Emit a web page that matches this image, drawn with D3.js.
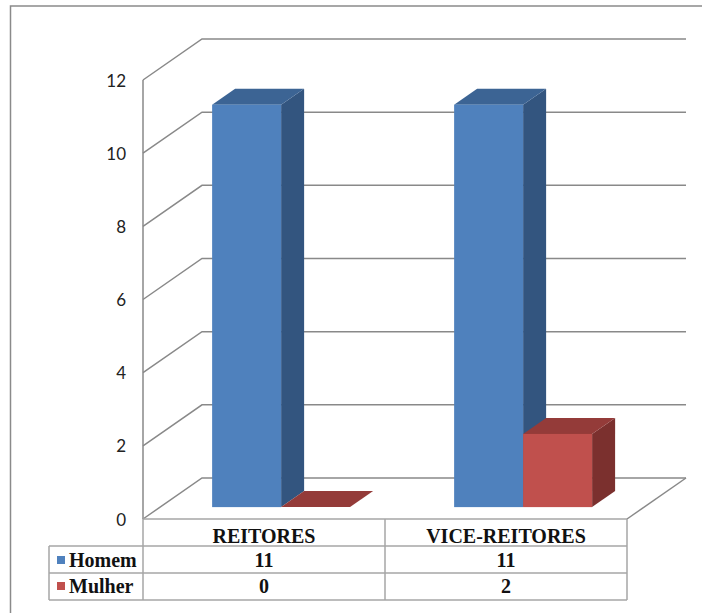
<!DOCTYPE html>
<html><head><meta charset="utf-8">
<script src="https://cdn.jsdelivr.net/npm/d3@7"></script>
<style>body{margin:0;background:#fff;overflow:hidden}</style>
</head><body>
<svg id="c" width="702" height="613"></svg>
<script>
const categories = ["REITORES", "VICE-REITORES"];
const seriesNames = ["Homem", "Mulher"];
const homem = [11, 11];
const mulher = [0, 2];
const yTicks = [0, 2, 4, 6, 8, 10, 12];

const seriesValues = [homem, mulher];
const colors = {
  Homem: {front: "#4F81BD", top: "#3C6494", side: "#33557F"},
  Mulher: {front: "#C0504D", top: "#943B39", side: "#7B302E"}
};

const svg = d3.select("#c");
const gridColor = "#898989";

// outer border
svg.append("rect").attr("x", 10.5).attr("y", 6).attr("width", 760).attr("height", 700)
  .attr("fill", "none").attr("stroke", "#8a8a8a").attr("stroke-width", 1.5);

const xLeft = 143, xRight = 627;
const D = {x: 59, y: -41};
const t0 = 0.29, t1 = 0.68;

const y = d3.scaleLinear().domain([0, 12]).range([519, 80]);
const x = d3.scaleBand().domain(categories).range([xLeft, xRight]).paddingInner(0).paddingOuter(0);
const xs = d3.scaleBand().domain(seriesNames).range([0, x.bandwidth()]).paddingInner(0).paddingOuter(0.754);

const walls = svg.append("g").attr("fill", "none").attr("stroke", gridColor).attr("stroke-width", 1.5);
yTicks.forEach(v => {
  const yy = y(v);
  walls.append("polyline").attr("points",
    [[xLeft, yy], [xLeft + D.x, yy + D.y], [xRight + D.x, yy + D.y]].map(p => p.join(",")).join(" "));
});
walls.append("line").attr("x1", xLeft).attr("x2", xLeft).attr("y1", y(12)).attr("y2", y(0));
walls.append("line").attr("x1", xRight).attr("x2", xRight + D.x).attr("y1", y(0)).attr("y2", y(0) + D.y);

// y axis labels
const axis = d3.axisLeft(y).tickValues(yTicks).tickSize(0).tickPadding(0).tickFormat(d3.format("d"));
const ag = svg.append("g").attr("transform", "translate(126,0)").call(axis);
ag.select(".domain").remove();
ag.selectAll("text").attr("font-family", "Lato, 'Open Sans', sans-serif").attr("font-size", 17)
  .attr("fill", "#222").attr("dy", "0.36em");

// bars
const dd = {x: D.x * (t1 - t0), y: D.y * (t1 - t0)};
const bars = svg.append("g");
categories.forEach((cat, j) => {
  seriesNames.forEach((s, i) => {
    const v = seriesValues[i][j];
    const xf = x(cat) + xs(s) + D.x * t0;
    const w = xs.bandwidth();
    const bot = y(0) + D.y * t0;
    const top = y(v) + D.y * t0;
    const c = colors[s];
    const pts = a => a.map(p => p.join(",")).join(" ");
    bars.append("polygon").attr("fill", c.side)
      .attr("points", pts([[xf + w, top], [xf + w + dd.x, top + dd.y], [xf + w + dd.x, bot + dd.y], [xf + w, bot]]));
    bars.append("polygon").attr("fill", c.top)
      .attr("points", pts([[xf, top], [xf + dd.x, top + dd.y], [xf + w + dd.x, top + dd.y], [xf + w, top]]));
    bars.append("rect").attr("fill", c.front).attr("x", xf).attr("y", top).attr("width", w).attr("height", bot - top);
  });
});

// data table
const tableColor = "#a6a6a6";
const tl = svg.append("g").attr("stroke", tableColor).attr("stroke-width", 1.5).attr("fill", "none");
const rowY = [519, 546, 573, 600];
const legendLeft = 49;
tl.append("line").attr("x1", xLeft).attr("x2", xRight).attr("y1", rowY[0]).attr("y2", rowY[0]);
[1, 2, 3].forEach(k => tl.append("line").attr("x1", legendLeft).attr("x2", xRight).attr("y1", rowY[k]).attr("y2", rowY[k]));
tl.append("line").attr("x1", legendLeft).attr("x2", legendLeft).attr("y1", rowY[1]).attr("y2", rowY[3]);
[xLeft, x(categories[1]), xRight].forEach(xx =>
  tl.append("line").attr("x1", xx).attr("x2", xx).attr("y1", rowY[0]).attr("y2", rowY[3]));

const serif = "'Liberation Serif', 'Times New Roman', serif";
const tt = svg.append("g").attr("font-family", serif).attr("font-weight", "bold").attr("font-size", 20).attr("fill", "#111");
categories.forEach(cat => {
  tt.append("text").attr("x", x(cat) + x.bandwidth() / 2).attr("y", 543).attr("text-anchor", "middle").text(cat);
});
seriesNames.forEach((s, i) => {
  const by = [567, 593][i];
  svg.append("rect").attr("x", 57).attr("y", by - 11).attr("width", 8).attr("height", 8).attr("fill", colors[s].front);
  tt.append("text").attr("x", 69).attr("y", by).text(s);
  categories.forEach((cat, j) => {
    tt.append("text").attr("x", x(cat) + x.bandwidth() / 2).attr("y", by).attr("text-anchor", "middle")
      .text(seriesValues[i][j]);
  });
});
</script>
</body></html>
